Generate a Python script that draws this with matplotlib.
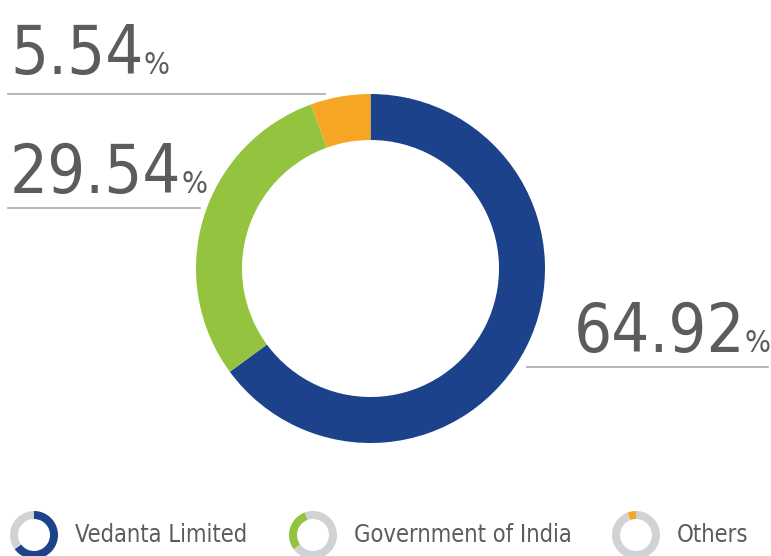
import matplotlib
matplotlib.use("Agg")
import matplotlib.pyplot as plt

# shareholding pattern
labels = ["Vedanta Limited", "Government of India", "Others"]
shares = [64.92, 29.54, 5.54]
colors = ["#1b428a", "#94c33f", "#f7a623"]
grey_ring = "#d1d2d4"
text_color = "#5b5c5e"
rule_color = "#a7a9ac"

W, H = 771, 556
FONT = dict(family="DejaVu Sans", stretch="condensed")

fig = plt.figure(figsize=(W / 100, H / 100), dpi=100)
ax = fig.add_axes([0, 0, 1, 1])
ax.axis("off")


def py(y):
    # image pixel row -> data y
    return H - y


# main donut
ax.pie(shares, colors=colors, startangle=90, counterclock=False,
       center=(370.5, py(268.5)), radius=174.5,
       wedgeprops=dict(width=46, linewidth=0))

renderer = fig.canvas.get_renderer()


def value_label(value, x, y, align="left"):
    num = f"{value:.2f}"
    if align == "left":
        t = ax.text(x, py(y), num, fontsize=48, color=text_color,
                    va="baseline", ha="left", **FONT)
        bb = t.get_window_extent(renderer)
        ax.text(bb.x1, py(y), "%", fontsize=22, color=text_color,
                va="baseline", ha="left", **FONT)
    else:
        p = ax.text(x, py(y), "%", fontsize=22, color=text_color,
                    va="baseline", ha="right", **FONT)
        bb = p.get_window_extent(renderer)
        ax.text(bb.x0, py(y), num, fontsize=48, color=text_color,
                va="baseline", ha="right", **FONT)


ax.set_xlim(0, W)
ax.set_ylim(0, H)
ax.set_aspect("auto")

value_label(shares[2], 10, 74)
value_label(shares[1], 10, 193)
value_label(shares[0], 771, 352, align="right")

ax.plot([8, 325], [py(94), py(94)], color=rule_color, lw=1.2)
ax.plot([8, 200], [py(208), py(208)], color=rule_color, lw=1.2)
ax.plot([527, 768], [py(367), py(367)], color=rule_color, lw=1.2)

# legend: small rings highlighting each holder
legend_x = [34, 313, 636]
for i, (name, cx) in enumerate(zip(labels, legend_x)):
    ring_colors = [colors[j] if j == i else grey_ring for j in range(len(shares))]
    ax.pie(shares, colors=ring_colors, startangle=90, counterclock=False,
           center=(cx, py(535)), radius=24,
           wedgeprops=dict(width=8, linewidth=0))
    ax.text(cx + 41, py(535), name, fontsize=17, color=text_color,
            va="center", ha="left", **FONT)

ax.set_xlim(0, W)
ax.set_ylim(0, H)
ax.set_aspect("auto")

fig.savefig("out.png", dpi=100)
